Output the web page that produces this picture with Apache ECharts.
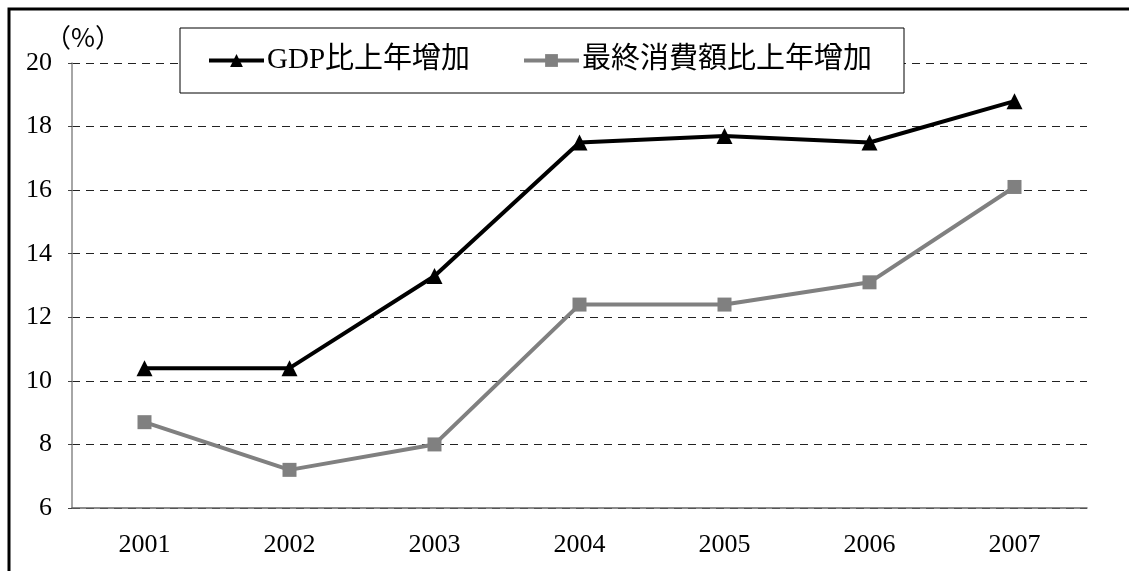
<!DOCTYPE html>
<html>
<head>
<meta charset="utf-8">
<script src="https://cdn.jsdelivr.net/npm/echarts@6/dist/echarts.min.js"></script>
<style>
  html, body { margin: 0; padding: 0; background: #fff; }
  #chart { width: 1129px; height: 571px; }
</style>
</head>
<body>
<div id="chart"></div>
<script>
// data
const years = ['2001', '2002', '2003', '2004', '2005', '2006', '2007']
const gdpGrowth = [10.4, 10.4, 13.3, 17.5, 17.7, 17.5, 18.8]
const consumptionGrowth = [8.7, 7.2, 8.0, 12.4, 12.4, 13.1, 16.1]
const seriesNames = ['GDP比上年增加', '最終消費額比上年增加']

const font = '"Liberation Serif", "Noto Sans CJK JP", serif'

const chart = echarts.init(document.getElementById('chart'))
chart.setOption({
  backgroundColor: '#fff',
  animation: false,
  textStyle: { fontFamily: font },
  graphic: [{
    // outer frame (only top and left edges show in the picture)
    type: 'rect',
    shape: { x: 9, y: 9, width: 1200, height: 600 },
    style: { fill: 'none', stroke: '#000', lineWidth: 3 },
    silent: true
  }],
  grid: {
    left: 72,
    right: 42,
    top: 63,
    bottom: 63
  },
  legend: {
    left: 180,
    top: 28,
    padding: [18, 32, 18, 27],
    itemGap: 52,
    itemWidth: 55,
    itemHeight: 16,
    borderColor: '#000',
    borderWidth: 1,
    backgroundColor: '#fff',
    lineStyle: { width: 4 },
    textStyle: { fontFamily: font, fontSize: 29, color: '#000', padding: [0, 0, 0, -2] },
    data: seriesNames
  },
  xAxis: {
    type: 'category',
    data: years,
    boundaryGap: true,
    axisLine: { lineStyle: { color: '#666', width: 1.5 } },
    axisTick: { inside: true, length: 8, lineStyle: { color: '#666' } },
    axisLabel: { color: '#000', fontSize: 26, margin: 24, fontFamily: font }
  },
  yAxis: {
    type: 'value',
    min: 6,
    max: 20,
    interval: 2,
    name: '（%）',
    nameLocation: 'end',
    nameGap: 8,
    nameTextStyle: { color: '#000', fontSize: 26, align: 'left', padding: [0, 0, 0, -27], fontFamily: '"Noto Sans CJK JP", "Liberation Serif", serif' },
    axisLine: { show: true, lineStyle: { color: '#888', width: 1.5 } },
    axisTick: { show: true, length: 4, lineStyle: { color: '#444' } },
    axisLabel: { color: '#000', fontSize: 26, margin: 20, fontFamily: font },
    splitLine: { lineStyle: { color: '#222', type: [8, 6], width: 1 } }
  },
  series: [
    {
      name: seriesNames[0],
      type: 'line',
      data: gdpGrowth,
      symbol: 'triangle',
      symbolSize: 16,
      z: 3,
      lineStyle: { color: '#000', width: 4 },
      itemStyle: { color: '#000' }
    },
    {
      name: seriesNames[1],
      type: 'line',
      data: consumptionGrowth,
      symbol: 'rect',
      symbolSize: 14,
      lineStyle: { color: '#808080', width: 4 },
      itemStyle: { color: '#808080' }
    }
  ]
})
</script>
</body>
</html>
